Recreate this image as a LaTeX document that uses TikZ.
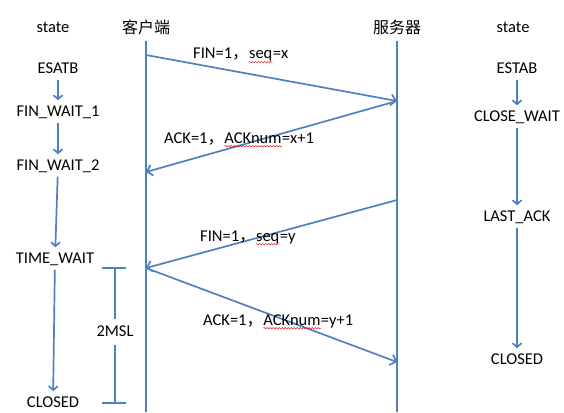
\documentclass[tikz,border=0pt]{standalone}
\usepackage{fontspec}
\setmainfont{Carlito}
\newfontfamily\cjk{Noto Sans CJK SC}
\usepackage{tikz}
\usetikzlibrary{arrows.meta,positioning,decorations.pathmorphing}
\usepackage{xcolor}
\definecolor{myblue}{RGB}{79,129,189}
\definecolor{myred}{RGB}{220,40,40}

\begin{document}
\begin{tikzpicture}[x=1pt,y=-1pt,
  statebox/.style={font=\fontsize{16.5}{19}\selectfont, text height=11pt, text depth=2pt, inner sep=3pt},
  headbox/.style={font=\cjk\fontsize{16}{18}\selectfont, inner sep=2pt},
  msglabel/.style={font=\fontsize{16.5}{19}\selectfont, text height=11pt, text depth=3pt, inner sep=0pt, anchor=west},
  lifeline/.style={myblue, line width=1.7pt},
  msg/.style={myblue, line width=1.7pt, -{Straight Barb[length=5pt,width=11pt]}},
  statearrow/.style={myblue, line width=1.7pt, -{Straight Barb[length=4pt,width=9pt]}, shorten <=1pt, shorten >=2pt},
  bracket/.style={myblue, line width=1.7pt},
  spellwave/.style={myred, line width=0.5pt, decorate, decoration={snake, segment length=3pt, amplitude=0.8pt}}]
  \useasboundingbox (0,0) rectangle (564,412);

  % headers
  \node[statebox] (lstate) at (53,28) {state};
  \node[headbox] (client) at (146,27) {客户端};
  \node[headbox] (server) at (397,27) {服务器};
  \node[statebox] (rstate) at (513,28) {state};

  % lifelines
  \coordinate (cTop) at (146,41);
  \coordinate (cBot) at (146,412);
  \coordinate (sTop) at (397,41);
  \coordinate (sBot) at (397,412);
  \draw[lifeline] (cTop) -- (cBot);
  \draw[lifeline] (sTop) -- (sBot);

  % messages
  \coordinate (c1) at (146,55);
  \coordinate (s1) at (397,101);
  \coordinate (c2) at (146,172);
  \coordinate (s2) at (397,200);
  \coordinate (c3) at (146,268);
  \coordinate (s3) at (397,362);
  \draw[msg] (c1) -- (s1);
  \draw[msg] (s1) -- (c2);
  \draw[msg] (s2) -- (c3);
  \draw[msg] (c3) -- (s3);

  % message labels
  \node[msglabel] (m1a) at (193,55) {FIN=1{\cjk ，}};
  \node[msglabel, right=0pt of m1a] (m1b) {seq};
  \node[msglabel, right=0pt of m1b] (m1c) {=x};
  \node[msglabel] (m2a) at (164,139) {ACK=1{\cjk ，}};
  \node[msglabel, right=0pt of m2a] (m2b) {ACKnum};
  \node[msglabel, right=0pt of m2b] (m2c) {=x+1};
  \node[msglabel] (m3a) at (200,237) {FIN=1{\cjk ，}};
  \node[msglabel, right=0pt of m3a] (m3b) {seq};
  \node[msglabel, right=0pt of m3b] (m3c) {=y};
  \node[msglabel] (m4a) at (203,321) {ACK=1{\cjk ，}};
  \node[msglabel, right=0pt of m4a] (m4b) {ACKnum};
  \node[msglabel, right=0pt of m4b] (m4c) {=y+1};
  \foreach \w in {m1b,m2b,m3b,m4b}
    \draw[spellwave] (\w.south west) -- (\w.south east);

  % client states
  \node[statebox] (esatb) at (58,69) {ESATB};
  \node[statebox] (fw1) at (58,112) {FIN\_WAIT\_1};
  \node[statebox] (fw2) at (58,166) {FIN\_WAIT\_2};
  \node[statebox] (tw) at (55,259) {TIME\_WAIT};
  \node[statebox] (lclosed) at (53,403) {CLOSED};
  \draw[statearrow] (esatb) -- (fw1);
  \draw[statearrow] (fw1) -- (fw2);
  \draw[statearrow] (fw2) -- (tw);
  \draw[statearrow] (tw) -- (lclosed);

  % server states
  \node[statebox] (estab) at (517,69) {ESTAB};
  \node[statebox] (cw) at (517,117) {CLOSE\_WAIT};
  \node[statebox] (lack) at (517,217) {LAST\_ACK};
  \node[statebox] (rclosed) at (517,360) {CLOSED};
  \draw[statearrow] (estab) -- (cw);
  \draw[statearrow] (cw) -- (lack);
  \draw[statearrow] (lack) -- (rclosed);

  % 2MSL
  \coordinate (mslTop) at (115,268);
  \coordinate (mslBot) at (115,403);
  \node[statebox, inner sep=6pt] (msl) at (115,332) {2MSL};
  \draw[bracket] (mslTop) -- (msl);
  \draw[bracket] (msl) -- (mslBot);
  \draw[bracket] ([xshift=-13pt]mslTop) -- ([xshift=11pt]mslTop);
  \draw[bracket] ([xshift=-13pt]mslBot) -- ([xshift=11pt]mslBot);
\end{tikzpicture}
\end{document}
